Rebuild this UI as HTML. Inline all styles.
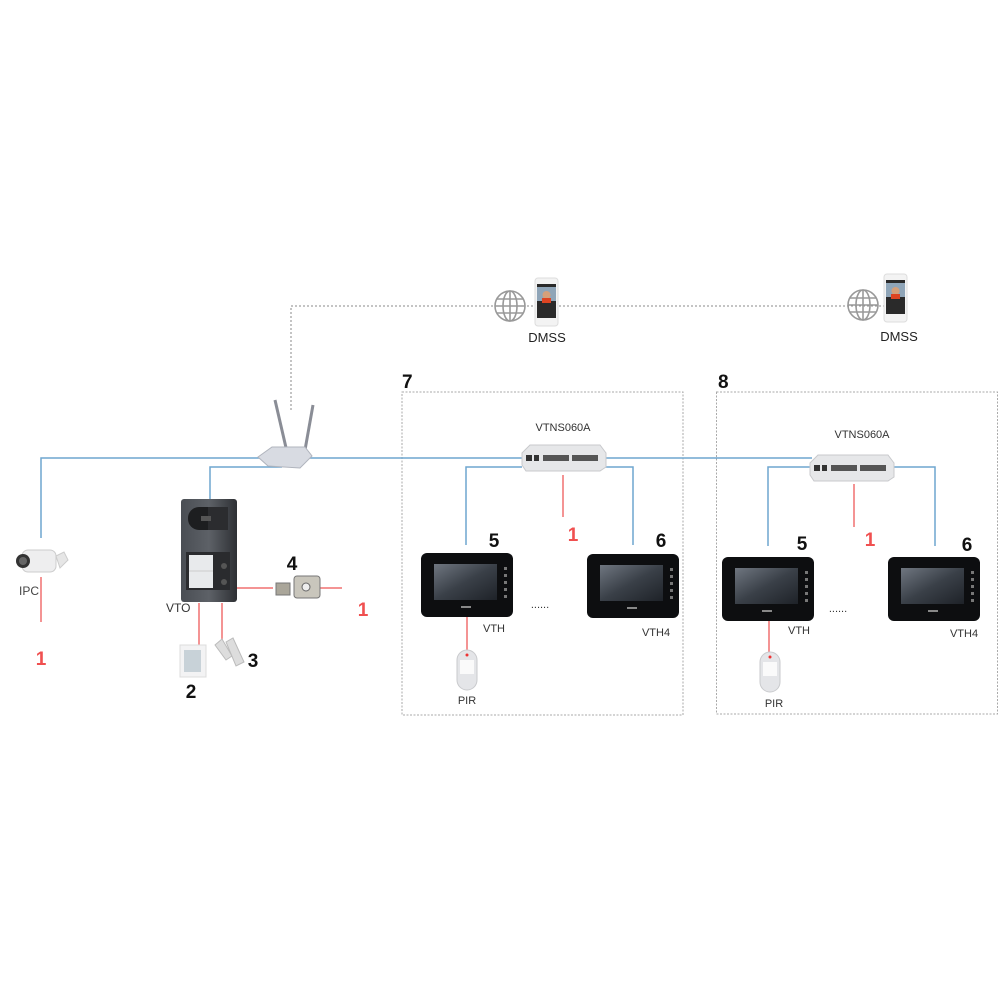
<!DOCTYPE html>
<html><head><meta charset="utf-8"><style>
html,body{margin:0;padding:0;background:#fff;}
svg{display:block;}
text{font-family:"Liberation Sans",sans-serif;}
</style></head><body>
<svg width="1000" height="1000" viewBox="0 0 1000 1000" xmlns="http://www.w3.org/2000/svg">
<defs>
<linearGradient id="scr" x1="0" y1="0" x2="1" y2="1"><stop offset="0" stop-color="#6f7680"/><stop offset="0.5" stop-color="#3a4048"/><stop offset="1" stop-color="#1e2228"/></linearGradient>
<linearGradient id="vto" x1="0" y1="0" x2="1" y2="0"><stop offset="0" stop-color="#4a4e54"/><stop offset="0.5" stop-color="#5d6167"/><stop offset="1" stop-color="#2e3034"/></linearGradient>
<g id="mon">
<rect x="0" y="0" width="92" height="64" rx="6" fill="#0d0e10"/>
<rect x="13" y="11" width="63" height="36" fill="url(#scr)"/>
<g fill="#777"><rect x="83" y="14" width="3" height="3"/><rect x="83" y="21" width="3" height="3"/><rect x="83" y="28" width="3" height="3"/><rect x="83" y="35" width="3" height="3"/><rect x="83" y="42" width="3" height="3"/></g>
<rect x="40" y="53" width="10" height="2" fill="#888"/>
</g>
<g id="sw">
<path d="M0,8 L8,0 L78,0 L84,8 L84,22 L78,26 L4,26 L0,20 Z" fill="#e6e7e9" stroke="#c8c9cc"/>
<rect x="4" y="10" width="6" height="6" fill="#333"/><rect x="12" y="10" width="5" height="6" fill="#333"/>
<rect x="21" y="10" width="26" height="6" fill="#555"/><rect x="50" y="10" width="26" height="6" fill="#555"/>
</g>
<g id="pir">
<rect x="0" y="0" width="20" height="40" rx="10" fill="#e4e5e8" stroke="#c9cacd"/>
<rect x="3" y="10" width="14" height="14" fill="#fafafa"/>
<circle cx="10" cy="5" r="1.5" fill="#e33"/>
</g>
<g id="globe" fill="none" stroke="#999" stroke-width="1.6">
<circle r="15"/><ellipse rx="7" ry="15"/><line x1="-15" y1="0" x2="15" y2="0"/><line x1="-13" y1="-7" x2="13" y2="-7"/><line x1="-13" y1="7" x2="13" y2="7"/><line x1="0" y1="-15" x2="0" y2="15"/>
</g>
<g id="phone">
<rect x="0" y="0" width="23" height="48" rx="3" fill="#f3f3f3" stroke="#ddd"/>
<rect x="2" y="6" width="19" height="34" fill="#2a2a2a"/>
<rect x="2" y="9" width="19" height="14" fill="#8fa5b8"/>
<circle cx="11.5" cy="17" r="4" fill="#d5a07a"/><rect x="7" y="20" width="9" height="5" fill="#d42"/>
</g>
</defs>

<!-- dashed internet line -->
<polyline points="291,410 291,306 890,306" fill="none" stroke="#888" stroke-width="1" stroke-dasharray="2,2"/>
<use href="#globe" x="510" y="306"/>
<use href="#phone" x="535" y="278"/>
<text x="547" y="342" font-size="13" text-anchor="middle" fill="#222">DMSS</text>
<use href="#globe" x="863" y="305"/>
<use href="#phone" x="884" y="274"/>
<text x="899" y="341" font-size="13" text-anchor="middle" fill="#222">DMSS</text>

<!-- boxes -->
<rect x="402" y="392" width="281" height="323" fill="none" stroke="#aaa" stroke-dasharray="2,1.5"/>
<rect x="716.5" y="392" width="281" height="322" fill="none" stroke="#aaa" stroke-dasharray="2,1.5"/>
<text x="402" y="388" font-size="19" font-weight="bold" fill="#111">7</text>
<text x="718" y="388" font-size="19" font-weight="bold" fill="#111">8</text>

<!-- blue lines -->
<g fill="none" stroke="#6fa6cf" stroke-width="1.5">
<polyline points="41,538 41,458 812,458"/>
<polyline points="210,500 210,467 282,467"/>
<polyline points="466,545 466,467 522,467"/>
<polyline points="605,467 633,467 633,545"/>
<polyline points="768,546 768,467 812,467"/>
<polyline points="893,467 935,467 935,546"/>
</g>
<!-- red lines -->
<g stroke="#f07070" stroke-width="1.5" fill="none">
<line x1="41" y1="577" x2="41" y2="622"/>
<line x1="199" y1="603" x2="199" y2="645"/>
<line x1="222" y1="603" x2="222" y2="640"/>
<line x1="237" y1="588" x2="273" y2="588"/>
<line x1="320" y1="588" x2="342" y2="588"/>
<line x1="563" y1="475" x2="563" y2="517"/>
<line x1="854" y1="484" x2="854" y2="527"/>
<line x1="467" y1="617" x2="467" y2="650"/>
<line x1="769" y1="620" x2="769" y2="652"/>
</g>

<!-- router -->
<line x1="275" y1="400" x2="287" y2="452" stroke="#8a8d96" stroke-width="3"/>
<line x1="313" y1="405" x2="305" y2="450" stroke="#8a8d96" stroke-width="3"/>
<path d="M258,457 L272,447 L305,447 L312,456 L300,468 L268,466 Z" fill="#d8dbe2" stroke="#b0b4bd"/>

<!-- IPC -->
<rect x="22" y="550" width="34" height="22" rx="6" fill="#eeeeef" stroke="#ccc"/>
<circle cx="23" cy="561" r="7" fill="#333"/><circle cx="23" cy="561" r="4" fill="#666"/>
<path d="M56,556 L64,552 L68,560 L60,568 Z" fill="#e6e6e6" stroke="#ccc"/>
<text x="19" y="595" font-size="12" fill="#444">IPC</text>
<text x="41" y="665" font-size="19" font-weight="bold" fill="#f05050" text-anchor="middle">1</text>

<!-- VTO -->
<rect x="181" y="499" width="56" height="103" rx="3" fill="url(#vto)"/>
<rect x="188" y="507" width="40" height="23" rx="11" fill="#1d1e20"/>
<rect x="208" y="507" width="20" height="23" rx="0" fill="#2b2c2f"/>
<rect x="201" y="516" width="10" height="5" fill="#555"/>
<rect x="186" y="552" width="44" height="38" fill="#2a2b2e"/>
<rect x="189" y="555" width="24" height="33" fill="#e8eaec"/>
<line x1="189" y1="571" x2="213" y2="571" stroke="#ccc"/>
<circle cx="224" cy="566" r="3" fill="#555"/><circle cx="224" cy="582" r="3" fill="#555"/>
<text x="166" y="612" font-size="12" fill="#333">VTO</text>

<!-- lock -->
<rect x="276" y="583" width="14" height="12" fill="#aaa69a" stroke="#777"/>
<rect x="294" y="576" width="26" height="22" rx="3" fill="#c9c6bc" stroke="#777"/>
<circle cx="306" cy="587" r="4" fill="#eee" stroke="#666"/>
<text x="292" y="570" font-size="19" font-weight="bold" fill="#111" text-anchor="middle">4</text>
<text x="363" y="616" font-size="19" font-weight="bold" fill="#f05050" text-anchor="middle">1</text>

<!-- exit button 2 -->
<rect x="180" y="645" width="26" height="32" fill="#f3f3f4" stroke="#ddd"/>
<rect x="184" y="650" width="17" height="22" fill="#c8d2d8"/>
<text x="191" y="698" font-size="19" font-weight="bold" fill="#111" text-anchor="middle">2</text>
<!-- magnet 3 -->
<path d="M215,645 L222,639 L232,656 L226,660 Z" fill="#ddd" stroke="#bbb"/>
<path d="M226,642 L233,638 L244,662 L236,666 Z" fill="#ddd" stroke="#bbb"/>
<text x="253" y="667" font-size="19" font-weight="bold" fill="#111" text-anchor="middle">3</text>

<!-- box 7 -->
<use href="#sw" x="522" y="445"/>
<text x="563" y="431" font-size="11" fill="#333" text-anchor="middle">VTNS060A</text>
<text x="573" y="541" font-size="19" font-weight="bold" fill="#f05050" text-anchor="middle">1</text>
<use href="#mon" x="421" y="553"/>
<use href="#mon" x="587" y="554"/>
<text x="494" y="547" font-size="19" font-weight="bold" fill="#111" text-anchor="middle">5</text>
<text x="661" y="547" font-size="19" font-weight="bold" fill="#111" text-anchor="middle">6</text>
<text x="494" y="632" font-size="11" fill="#333" text-anchor="middle">VTH</text>
<text x="656" y="636" font-size="11" fill="#333" text-anchor="middle">VTH4</text>
<text x="540" y="608" font-size="11" fill="#333" text-anchor="middle">......</text>
<use href="#pir" x="457" y="650"/>
<text x="467" y="704" font-size="11" fill="#333" text-anchor="middle">PIR</text>

<!-- box 8 -->
<use href="#sw" x="810" y="455"/>
<text x="862" y="438" font-size="11" fill="#333" text-anchor="middle">VTNS060A</text>
<text x="870" y="546" font-size="19" font-weight="bold" fill="#f05050" text-anchor="middle">1</text>
<use href="#mon" x="722" y="557"/>
<use href="#mon" x="888" y="557"/>
<text x="802" y="550" font-size="19" font-weight="bold" fill="#111" text-anchor="middle">5</text>
<text x="967" y="551" font-size="19" font-weight="bold" fill="#111" text-anchor="middle">6</text>
<text x="799" y="634" font-size="11" fill="#333" text-anchor="middle">VTH</text>
<text x="964" y="637" font-size="11" fill="#333" text-anchor="middle">VTH4</text>
<text x="838" y="612" font-size="11" fill="#333" text-anchor="middle">......</text>
<use href="#pir" x="760" y="652"/>
<text x="774" y="707" font-size="11" fill="#333" text-anchor="middle">PIR</text>
</svg>
</body></html>
